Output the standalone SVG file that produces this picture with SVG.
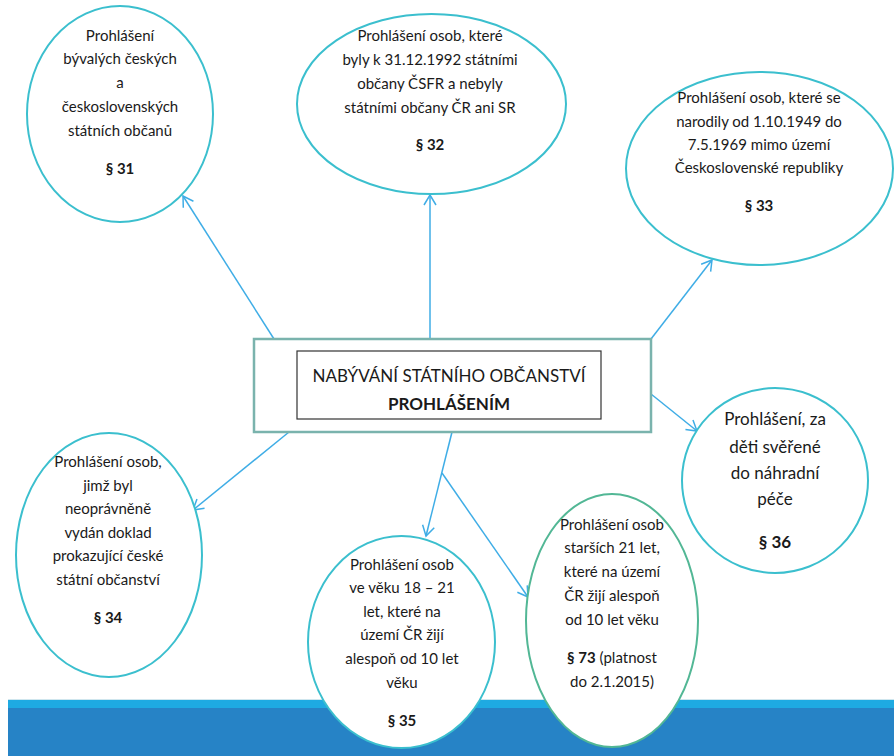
<svg xmlns="http://www.w3.org/2000/svg" width="894" height="756" viewBox="0 0 894 756">
<style>
.t{font-family:Lato,"Liberation Sans",sans-serif;font-size:15px;fill:#1a1a1a;text-anchor:middle}
.b{font-weight:bold}
.big{font-size:17px}
.ell{fill:#fff;stroke:#3bbfce;stroke-width:2}
.ellg{fill:#fff;stroke:#52b795;stroke-width:2}
.con{stroke:#3fade6;stroke-width:1.5;fill:none;marker-end:url(#arr)}
</style>
<defs>
<marker id="arr" markerUnits="userSpaceOnUse" markerWidth="16" markerHeight="16" viewBox="0 0 16 16" refX="14" refY="8" orient="auto">
<path d="M4,2 L14,8 L4,14" fill="none" stroke="#3fade6" stroke-width="1.5"/>
</marker>
</defs>
<rect width="894" height="756" fill="#fff"/>
<g id="bar">
<rect x="8" y="699" width="886" height="1.5" fill="#cfe6ee"/>
<rect x="8" y="700" width="886" height="8" fill="#1eaae2"/>
<rect x="8" y="708" width="886" height="48" fill="#2683c6"/>
</g>
<g id="connectors">
<line class="con" x1="274" y1="339" x2="183" y2="196"/>
<line class="con" x1="430" y1="339" x2="430" y2="195"/>
<line class="con" x1="651" y1="339" x2="712" y2="260"/>
<line class="con" x1="651" y1="394" x2="697" y2="431"/>
<line class="con" x1="289" y1="432" x2="193" y2="510"/>
<line class="con" x1="452" y1="432" x2="426" y2="536"/>
<line class="con" x1="442" y1="473" x2="528" y2="597"/>
</g>
<g id="center">
<rect x="254" y="339" width="397" height="93" fill="#fff" stroke="#7ab3ad" stroke-width="2.5"/>
<rect x="297" y="351" width="304" height="68" fill="#fff" stroke="#333" stroke-width="1.2"/>
<text class="t big" x="449" y="382">NABÝVÁNÍ STÁTNÍHO OBČANSTVÍ</text>
<text class="t big b" x="449" y="410">PROHLÁŠENÍM</text>
</g>
<g id="n31">
<ellipse class="ell" cx="120" cy="114" rx="93" ry="108"/>
<text class="t" x="120" y="41">Prohlášení</text>
<text class="t" x="120" y="64">bývalých českých</text>
<text class="t" x="120" y="88">a</text>
<text class="t" x="120" y="112">československých</text>
<text class="t" x="120" y="136">státních občanů</text>
<text class="t b" x="120" y="174">§ 31</text>
</g>
<g id="n32">
<ellipse class="ell" cx="431.5" cy="104" rx="134.5" ry="90"/>
<text class="t" x="430" y="41">Prohlášení osob, které</text>
<text class="t" x="430" y="65">byly k 31.12.1992 státními</text>
<text class="t" x="430" y="89">občany ČSFR a nebyly</text>
<text class="t" x="430" y="113">státními občany ČR ani SR</text>
<text class="t b" x="430" y="150">§ 32</text>
</g>
<g id="n33">
<ellipse class="ell" cx="759.5" cy="168.5" rx="133.5" ry="96.5"/>
<text class="t" x="759" y="103">Prohlášení osob, které se</text>
<text class="t" x="759" y="127">narodily od 1.10.1949 do</text>
<text class="t" x="759" y="150">7.5.1969 mimo území</text>
<text class="t" x="759" y="173">Československé republiky</text>
<text class="t b" x="759" y="211">§ 33</text>
</g>
<g id="n36">
<ellipse class="ell" cx="775" cy="480.5" rx="93" ry="92.5"/>
<text class="t big" x="775" y="425">Prohlášení, za</text>
<text class="t big" x="775" y="453">děti svěřené</text>
<text class="t big" x="775" y="479">do náhradní</text>
<text class="t big" x="775" y="505">péče</text>
<text class="t big b" x="775" y="548">§ 36</text>
</g>
<g id="n34">
<ellipse class="ell" cx="109" cy="555" rx="93" ry="122"/>
<text class="t" x="108" y="467">Prohlášení osob,</text>
<text class="t" x="108" y="491">jimž byl</text>
<text class="t" x="108" y="514">neoprávněně</text>
<text class="t" x="108" y="538">vydán doklad</text>
<text class="t" x="108" y="561">prokazující české</text>
<text class="t" x="108" y="585">státní občanství</text>
<text class="t b" x="108" y="623">§ 34</text>
</g>
<g id="n35">
<ellipse class="ell" cx="401.5" cy="642" rx="93.5" ry="106"/>
<text class="t" x="402" y="570">Prohlášení osob</text>
<text class="t" x="402" y="593">ve věku 18 – 21</text>
<text class="t" x="402" y="617">let, které na</text>
<text class="t" x="402" y="640">území ČR žijí</text>
<text class="t" x="402" y="664">alespoň od 10 let</text>
<text class="t" x="402" y="688">věku</text>
<text class="t b" x="402" y="726">§ 35</text>
</g>
<g id="n73">
<ellipse class="ellg" cx="612" cy="620.5" rx="86" ry="126.5"/>
<text class="t" x="612" y="530">Prohlášení osob</text>
<text class="t" x="612" y="553">starších 21 let,</text>
<text class="t" x="612" y="577">které na území</text>
<text class="t" x="612" y="601">ČR žijí alespoň</text>
<text class="t" x="612" y="625">od 10 let věku</text>
<text class="t" x="612" y="663"><tspan class="b">§ 73</tspan> (platnost</text>
<text class="t" x="612" y="687">do 2.1.2015)</text>
</g>
</svg>
